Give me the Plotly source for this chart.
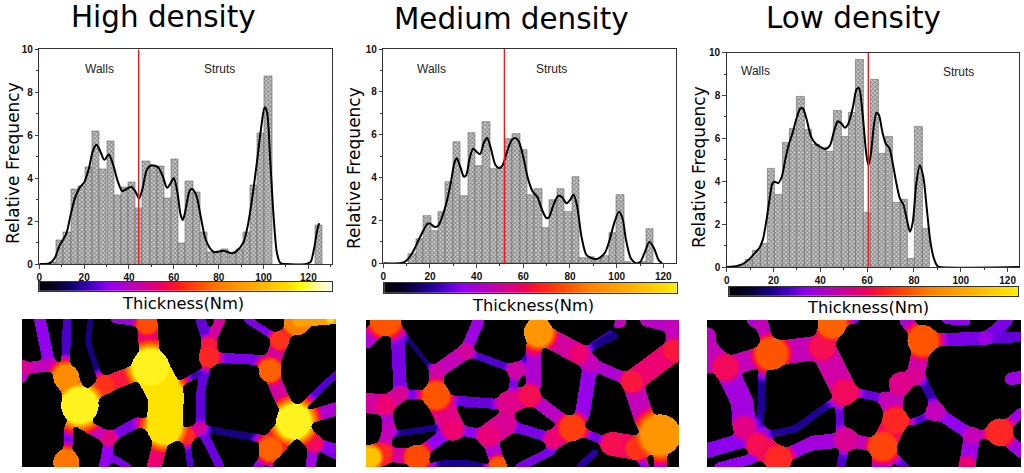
import numpy as np
import plotly.graph_objects as go

W, H = 1024, 473

# ---------- histogram data ----------
high_bar_x = [6.0, 9.3, 12.5, 15.7, 18.9, 22.1, 25.3, 28.5, 31.7, 34.9, 38.1, 41.3, 44.5, 47.7, 50.9, 54.1, 57.3, 60.5, 63.7, 66.9, 70.1, 73.3, 76.5, 79.7, 82.9, 86.1, 89.3, 92.5, 95.7, 98.9, 102.1, 124.5]
high_bar_y = [0.1, 1.1, 1.5, 3.5, 3.6, 4.5, 6.2, 4.4, 5.7, 3.2, 3.55, 3.8, 2.6, 4.8, 4.55, 4.55, 3.05, 4.9, 0.95, 3.85, 3.35, 1.5, 0.55, 0.55, 0.7, 0.5, 0.7, 1.5, 3.65, 6.1, 8.75, 1.8]
high_fit_x = [0, 3, 5, 7, 9, 12, 14, 16, 18, 20, 22, 24, 25.5, 27, 29, 31, 33, 35, 37, 39, 41, 43, 44.5, 46, 48, 50, 53, 55, 57, 58.5, 60, 61.5, 63, 64, 65, 67, 68, 70, 72, 74, 76, 78, 82, 86, 88, 91, 93, 95, 97, 99, 100.5, 101.5, 103, 104.5, 106, 107.5, 110, 119, 121, 122.5, 124, 124.8]
high_fit_y = [0, 0, 0.05, 0.3, 0.85, 1.4, 2.3, 3.1, 3.55, 3.8, 4.4, 5.3, 5.55, 5.3, 4.85, 5.1, 4.6, 3.85, 3.4, 3.5, 3.6, 3.35, 3.05, 3.5, 4.4, 4.6, 4.5, 4.1, 3.55, 3.75, 4.0, 3.4, 2.3, 2.05, 2.4, 3.4, 3.5, 3.2, 2.2, 1.2, 0.75, 0.55, 0.62, 0.5, 0.6, 1.0, 1.8, 3.1, 4.7, 6.4, 7.3, 7.1, 4.8, 2.2, 0.5, 0.05, 0, 0, 0.1, 0.7, 1.6, 1.9]

med_bar_x = [12.4, 15.6, 18.8, 21.9, 25.1, 28.3, 31.5, 34.7, 37.9, 41.0, 44.2, 47.4, 50.6, 53.8, 57.0, 60.1, 63.3, 66.5, 69.7, 72.9, 76.1, 79.2, 82.4, 85.6, 88.8, 92.0, 95.2, 98.3, 101.5, 104.7, 111.1, 114.2]
med_bar_y = [0.45, 1.15, 2.2, 1.5, 2.4, 3.8, 5.65, 3.15, 6.1, 4.55, 6.6, 4.4, 4.45, 5.8, 6.05, 5.3, 3.2, 3.45, 1.65, 2.95, 3.45, 2.4, 4.05, 0.25, 0.28, 0.22, 0.33, 1.4, 3.2, 0.05, 0.05, 1.6]
med_fit_x = [0, 7, 9, 11, 13, 15, 17, 19, 20, 22, 23.5, 25, 27, 29, 30.5, 31.5, 33, 34.5, 35.5, 37, 38.5, 40, 41.5, 43, 44.5, 46, 48, 49.5, 51, 53, 55, 56.5, 58, 60, 62, 64, 66, 68, 70, 71, 73, 75, 76.5, 78.5, 80, 81.5, 83, 85, 87, 89, 92, 95, 97, 99, 101, 102.5, 104, 106, 108, 110, 112, 114, 116, 118, 119.5]
med_fit_y = [0, 0, 0.05, 0.25, 0.6, 1.05, 1.5, 1.85, 1.85, 1.7, 1.75, 2.1, 2.8, 3.8, 4.7, 4.9, 4.5, 4.05, 4.1, 4.9, 5.35, 5.2, 5.1, 5.6, 5.85, 5.4, 4.6, 4.45, 4.55, 5.2, 5.75, 5.85, 5.7, 4.95, 3.95, 3.35, 3.1, 2.5, 2.1, 2.15, 2.75, 3.15, 3.1, 2.8, 2.95, 3.2, 2.7, 1.2, 0.4, 0.25, 0.22, 0.5, 1.1, 1.9, 2.4, 2.1, 1.1, 0.25, 0.02, 0.05, 0.5, 1.0, 0.7, 0.15, 0]

low_bar_x = [6.5, 9.65, 12.8, 16.0, 19.1, 22.3, 25.4, 28.6, 31.7, 34.9, 38.0, 41.2, 44.3, 47.5, 50.6, 53.8, 56.9, 60.1, 63.2, 66.4, 69.5, 72.7, 75.8, 79.0, 82.1, 85.3]
low_bar_y = [0.1, 0.35, 0.78, 1.07, 4.6, 3.37, 5.8, 6.45, 7.93, 6.43, 5.73, 5.55, 5.4, 7.3, 6.1, 7.2, 9.67, 2.53, 8.72, 5.27, 6.07, 3.0, 3.13, 0.37, 6.57, 1.8]
low_fit_x = [0, 3, 6, 8, 10, 12, 14, 15.5, 17, 18.5, 19.5, 20.5, 22, 23.5, 25, 26.5, 28, 30, 31.5, 32.5, 34, 36, 38, 40, 42, 44, 46, 47.5, 49, 50.5, 52, 54, 55.5, 56.5, 58, 59.5, 60.5, 61.5, 63, 64, 65, 66.5, 68, 69.5, 71, 72.5, 74, 75.5, 77, 78.3, 79.5, 81, 82.5, 84, 85.5, 87, 88.5, 90, 91, 125]
low_fit_y = [0, 0.02, 0.1, 0.22, 0.4, 0.65, 0.9, 1.3, 2.2, 3.3, 3.9, 3.98, 3.92, 4.2, 5.0, 5.7, 6.2, 7.0, 7.4, 7.4, 6.95, 6.1, 5.75, 5.6, 5.5, 5.65, 6.4, 6.8, 6.7, 6.5, 6.7, 7.5, 8.3, 8.35, 7.2, 5.4, 4.75, 5.2, 6.7, 7.2, 7.1, 6.3, 5.75, 5.55, 4.8, 3.9, 3.2, 2.9, 2.2, 1.65, 2.1, 3.9, 4.75, 4.2, 2.7, 1.2, 0.4, 0.05, 0, 0]

divider_x = [44.3, 51.9, 60.5]
titles = ["High density", "Medium density", "Low density"]

# ---------- thickness map networks: nodes (x, y, radius, level) and struts (a, b, radius, level) ----------
high_nodes = [(238,270,55,.93),(197,185,38,.76),(313,208,28,.6),(450,155,55,.93),(497,240,50,.88),(492,335,52,.88),(625,125,30,.58),(625,88,22,.55),(808,165,33,.68),(838,75,27,.6),(890,20,38,.74),(880,318,52,.93),(810,400,35,.68),(940,382,25,.52),(558,360,25,.58),(600,338,18,.42),(325,368,22,.48),(197,440,38,.72),(440,25,30,.64),(990,10,12,.9),(75,158,18,.46)]
high_struts = [((118,12),(145,140),14,.33),((145,140),(197,185),14,.4),((200,12),(195,150),10,.24),((75,158),(145,150),14,.42),((270,12),(262,80),6,.15),((262,80),(295,180),6,.15),((197,185),(238,270),28,.7),((238,270),(313,208),18,.5),((313,208),(450,155),20,.55),((340,12),(440,25),8,.35),((440,25),(450,155),25,.5),((450,155),(497,240),45,.9),((497,240),(492,335),45,.9),((530,210),(610,165),6,.22),((625,125),(625,88),20,.5),((625,88),(600,12),12,.27),((625,88),(660,12),12,.45),((615,165),(600,230),10,.27),((600,230),(600,338),10,.27),((625,125),(808,135),12,.3),((808,165),(838,75),20,.45),((838,75),(890,20),14,.45),((838,75),(740,12),8,.3),((808,165),(840,240),18,.45),((840,240),(880,318),18,.45),((880,318),(810,400),30,.55),((880,318),(1007,280),16,.38),((880,318),(940,382),20,.48),((940,382),(1007,420),10,.3),((910,270),(1007,175),8,.25),((810,400),(770,456),10,.33),((810,400),(810,456),6,.3),((940,382),(930,456),12,.35),((600,338),(790,370),8,.15),((600,338),(558,360),14,.45),((558,360),(492,335),14,.5),((558,360),(570,456),7,.25),((600,338),(660,456),10,.28),((492,335),(460,456),18,.5),((492,335),(410,320),12,.35),((410,320),(325,368),12,.3),((325,368),(320,410),12,.33),((320,410),(310,456),12,.33),((325,368),(238,320),14,.42),((205,330),(205,370),10,.28),((205,370),(197,440),10,.3),((320,420),(350,435),8,.3),((350,435),(385,456),8,.3),((75,158),(66,190),10,.4),((66,150),(75,158),14,.45),((940,382),(1007,400),12,.32),((890,20),(1007,10),12,.8)]

med_nodes = [(120,15,45,.66),(155,50,18,.42),(165,235,20,.46),(120,268,28,.5),(272,240,40,.66),(272,170,20,.44),(360,108,24,.45),(512,165,25,.44),(578,50,42,.78),(565,100,20,.44),(552,240,32,.53),(490,262,35,.47),(322,340,28,.5),(430,360,32,.49),(478,325,18,.44),(680,338,38,.62),(700,115,28,.5),(735,145,18,.42),(625,370,25,.5),(860,198,32,.55),(985,105,32,.55),(985,35,18,.42),(945,358,60,.78),(875,398,30,.6),(800,385,28,.53),(215,425,36,.64),(110,415,28,.58),(75,425,30,.85),(458,450,25,.66),(130,340,20,.42),(825,20,16,.42)]
med_struts = [((155,50),(165,235),16,.3),((120,15),(155,50),18,.45),((175,55),(255,155),5,.14),((360,108),(272,170),18,.42),((360,108),(400,15),14,.35),((360,108),(512,165),8,.25),((512,165),(500,230),10,.3),((565,100),(512,165),6,.2),((565,100),(565,210),18,.38),((578,50),(565,100),20,.5),((578,50),(700,115),25,.45),((700,115),(735,145),22,.42),((740,95),(810,60),8,.15),((735,145),(860,198),14,.38),((735,145),(710,300),18,.34),((860,198),(985,105),28,.5),((985,105),(985,35),20,.42),((985,35),(900,15),14,.4),((860,198),(900,320),25,.42),((272,240),(165,235),10,.3),((165,235),(120,268),20,.45),((120,268),(62,262),25,.45),((272,240),(272,170),18,.44),((272,240),(322,340),30,.48),((320,255),(450,265),12,.28),((490,262),(552,240),25,.47),((552,240),(680,338),16,.4),((490,262),(478,325),10,.3),((478,325),(430,360),30,.46),((322,340),(430,360),12,.33),((478,325),(625,370),12,.3),((625,370),(680,338),25,.47),((680,338),(800,385),10,.3),((800,385),(875,398),30,.52),((875,398),(945,358),30,.6),((430,360),(458,450),18,.38),((322,340),(240,400),14,.33),((155,355),(280,335),7,.16),((130,340),(120,268),14,.38),((130,340),(110,415),15,.42),((110,415),(215,425),18,.45),((75,425),(110,415),30,.55),((250,456),(290,445),8,.16),((290,445),(370,445),8,.16),((370,445),(420,456),8,.16),((620,405),(520,456),10,.3),((750,410),(700,456),8,.18),((875,398),(900,456),10,.3),((945,400),(945,456),16,.33),((62,75),(120,15),20,.38),((700,115),(825,20),3,.2)]

low_nodes = [(258,115,47,.66),(120,155,38,.52),(410,95,38,.53),(440,25,42,.68),(478,230,38,.52),(175,335,32,.48),(235,352,15,.36),(215,385,28,.53),(278,430,40,.58),(712,75,45,.66),(645,205,34,.47),(690,180,25,.45),(630,315,38,.58),(592,393,42,.63),(482,372,34,.46),(750,288,28,.42),(860,360,25,.42),(942,350,40,.58),(900,68,20,.35),(845,450,25,.5),(380,383,18,.33),(230,30,20,.42)]
low_struts = [((258,115),(120,155),25,.42),((258,115),(410,95),30,.42),((410,95),(440,25),28,.5),((410,95),(478,230),32,.44),((230,165),(228,220),8,.17),((228,220),(225,340),8,.17),((230,30),(258,115),15,.38),((230,30),(200,15),14,.38),((120,155),(67,100),25,.42),((120,155),(170,260),28,.36),((170,260),(175,335),28,.36),((175,335),(215,385),18,.42),((235,360),(330,340),8,.17),((330,340),(440,260),8,.17),((510,230),(600,250),10,.28),((600,250),(630,315),18,.42),((460,260),(465,345),9,.28),((482,372),(592,393),16,.42),((630,315),(592,393),30,.52),((278,430),(215,385),30,.52),((278,430),(380,383),16,.35),((380,383),(482,372),18,.36),((185,370),(67,405),18,.32),((200,430),(100,456),12,.33),((712,75),(690,180),22,.44),((690,180),(645,205),20,.46),((645,205),(630,315),12,.42),((710,190),(750,270),10,.2),((680,320),(720,305),8,.25),((750,288),(860,360),14,.33),((860,360),(942,350),10,.4),((942,350),(1008,290),12,.35),((942,350),(1008,410),15,.35),((860,360),(845,450),20,.35),((712,75),(900,68),16,.3),((900,68),(1008,65),12,.27),((900,68),(965,15),14,.3),((712,75),(660,15),15,.38),((780,15),(845,20),8,.33),((440,25),(515,15),6,.3),((592,393),(660,456),10,.25),((592,393),(590,456),25,.4),((482,372),(465,456),10,.24),((975,190),(1008,185),15,.35),((67,60),(67,150),20,.4)]

map_boxes = [(22, 319, 336, 467), (366, 320, 679, 467), (707, 320, 1021, 467)]
map_crops = [(0, 315), (345, 315), (685, 315)]

# ---------- colour maps ----------
map_scale = [[0, "#000000"], [0.07, "#04002a"], [0.16, "#1a008c"], [0.25, "#5200d0"], [0.33, "#9400f0"], [0.42, "#c400b8"], [0.5, "#ee0070"], [0.57, "#ff2028"], [0.65, "#ff5000"], [0.8, "#ffa000"], [0.92, "#fff000"], [1, "#fffff0"]]
bar_stops = [[0, "#000000"], [0.06, "#04002a"], [0.13, "#1a008c"], [0.19, "#5200d0"], [0.235, "#9000f0"], [0.34, "#c400a8"], [0.42, "#ee0060"], [0.47, "#ff1820"], [0.55, "#ff5000"], [0.62, "#ff8000"], [0.75, "#ffb000"], [0.86, "#ffe000"], [0.89, "#ffff00"]]
fire_full = bar_stops + [[0.95, "#ffffa0"], [1, "#fffff8"]]
fire_yellow = [[s / 0.89, c] for s, c in bar_stops[:-1]] + [[1, "#ffee00"]]


def smooth(a, size):
    k = np.ones(size) / size
    for _ in range(3):
        a = np.apply_along_axis(lambda v: np.convolve(np.pad(v, size, mode="edge"), k, mode="same")[size:-size], 0, a)
        a = np.apply_along_axis(lambda v: np.convolve(np.pad(v, size, mode="edge"), k, mode="same")[size:-size], 1, a)
    return a


def thickness_map(nodes, struts, crop, box):
    xs = np.arange((box[0] - crop[0]) * 3, (box[2] - crop[0]) * 3 + 1, 1.5)
    ys = np.arange((box[1] - crop[1]) * 3, (box[3] - crop[1]) * 3 + 1, 1.5)
    gx, gy = np.meshgrid(xs, ys)
    covered = np.zeros_like(gx, dtype=bool)
    level = np.zeros_like(gx)
    for a, b, r, v in struts:
        dx, dy = b[0] - a[0], b[1] - a[1]
        t = np.clip(((gx - a[0]) * dx + (gy - a[1]) * dy) / max(dx * dx + dy * dy, 1), 0, 1)
        d = np.hypot(gx - a[0] - t * dx, gy - a[1] - t * dy)
        inside = d <= r * 1.15
        covered |= inside
        level = np.where(inside, np.maximum(level, v), level)
    for x, y, r, v in nodes:
        d = np.hypot(gx - x, gy - y)
        covered |= d <= r
        glow = v * np.clip(1 - (d - r) / (1.3 * r), 0, 1)
        glow = np.where(d <= r, v, glow * 0.95)
        level = np.maximum(level, glow)
    # rounded pore corners: close the network mask, then fill new pixels from nearby levels
    soft = smooth(covered.astype(float), 9)
    closed = soft > 0.42
    weight = smooth(covered.astype(float), 7)
    filled = smooth(level * covered, 7) / np.maximum(weight, 1e-3)
    level = np.where(covered, smooth(level * covered, 3) / np.maximum(smooth(covered.astype(float), 3), 1e-3), filled)
    return xs, ys, np.where(closed, level, 0).round(3)


def dom_x(a, b):
    return [a / W, b / W]


def dom_y(top, bottom):
    return [1 - bottom / H, 1 - top / H]


fig = go.Figure()
layout = {}
annotations = []


def note(text, px, py, size, family, angle=0, color="#000000"):
    annotations.append(dict(text=text, x=px / W, y=1 - py / H, xref="paper", yref="paper", showarrow=False,
                            xanchor="center", yanchor="middle", textangle=angle,
                            font=dict(size=size, family=family, color=color)))


plots = [
    dict(box=(39.3, 49.3, 331.7, 264), xr=130.4, bx=high_bar_x, by=high_bar_y, fx=high_fit_x, fy=high_fit_y,
         cbar=(39.3, 281.7, 332, 290.7), scale=fire_full, nodes=high_nodes, struts=high_struts,
         title=(163, 17), yt=(13, 163), xt=(183, 303), walls=(99, 69.3), struts_lbl=(219, 69.3)),
    dict(box=(383.3, 49, 675.7, 263.3), xr=125.3, bx=med_bar_x, by=med_bar_y, fx=med_fit_x, fy=med_fit_y,
         cbar=(384.3, 283, 676.7, 292.7), scale=fire_yellow, nodes=med_nodes, struts=med_struts,
         title=(511, 19), yt=(354, 168), xt=(533, 305), walls=(431.7, 69.3), struts_lbl=(551.7, 69.3)),
    dict(box=(726.7, 52.7, 1019.3, 267), xr=125, bx=low_bar_x, by=low_bar_y, fx=low_fit_x, fy=low_fit_y,
         cbar=(729.3, 286.7, 1018.3, 295.7), scale=fire_yellow, nodes=low_nodes, struts=low_struts,
         title=(853.5, 18), yt=(699, 167), xt=(868, 307), walls=(755, 70.7), struts_lbl=(958.7, 72)),
]

tick_font = dict(size=10, family="Liberation Sans", color="#111111", weight="bold")

for i, p in enumerate(plots):
    n = i * 3
    ax, ay = f"x{n+1}", f"y{n+1}"
    cx, cy = f"x{n+2}", f"y{n+2}"
    mx, my = f"x{n+3}", f"y{n+3}"
    l, t, r, b = p["box"]
    fig.add_trace(go.Bar(x=p["bx"], y=p["by"], width=3.17, xaxis=ax, yaxis=ay, showlegend=False,
                         marker=dict(color="#aaaaaa", line=dict(color="#666666", width=0.6),
                                     pattern=dict(shape="x", size=3, solidity=0.55, fgcolor="#3a3a3a", bgcolor="#d0d0d0"))))
    fig.add_trace(go.Scatter(x=p["fx"], y=p["fy"], mode="lines", xaxis=ax, yaxis=ay, showlegend=False,
                             line=dict(color="#000000", width=2, shape="spline", smoothing=0.8)))
    fig.add_trace(go.Scatter(x=[divider_x[i], divider_x[i]], y=[0, 10], mode="lines", xaxis=ax, yaxis=ay, showlegend=False,
                             line=dict(color="#f01818", width=1.4)))
    layout[f"xaxis{n+1}"] = dict(domain=dom_x(l, r), range=[0, p["xr"]], anchor=ay, tickvals=list(range(0, 121, 20)),
                                 ticks="outside", ticklen=3.5, tickwidth=1, tickfont=tick_font, showgrid=False, zeroline=False,
                                 showline=True, linecolor="#333333", linewidth=1, mirror=True,
                                 minor=dict(tickvals=list(range(10, 131, 20)), ticks="outside", ticklen=2, tickwidth=1, tickcolor="#333333"))
    layout[f"yaxis{n+1}"] = dict(domain=dom_y(t, b), range=[0, 10], anchor=ax, tickvals=list(range(0, 11, 2)),
                                 ticks="outside", ticklen=3.5, tickwidth=1, tickfont=tick_font, showgrid=False, zeroline=False,
                                 showline=True, linecolor="#333333", linewidth=1, mirror=True,
                                 minor=dict(tickvals=list(range(1, 10, 2)), ticks="outside", ticklen=2, tickwidth=1, tickcolor="#333333"))

    c = p["cbar"]
    grad = np.linspace(0, 1, 256)
    fig.add_trace(go.Heatmap(x=grad, y=[0, 1], z=[grad, grad], xaxis=cx, yaxis=cy, zmin=0, zmax=1, colorscale=p["scale"],
                             showscale=False, hoverinfo="skip"))
    layout[f"xaxis{n+2}"] = dict(domain=dom_x(c[0], c[2]), range=[0, 1], anchor=cy, showticklabels=False, ticks="", showgrid=False,
                                 zeroline=False, showline=True, linecolor="#333333", linewidth=1, mirror=True)
    layout[f"yaxis{n+2}"] = dict(domain=dom_y(c[1], c[3]), range=[0, 1], anchor=cx, showticklabels=False, ticks="", showgrid=False,
                                 zeroline=False, showline=True, linecolor="#333333", linewidth=1, mirror=True)

    mb = map_boxes[i]
    crop = map_crops[i]
    xs, ys, z = thickness_map(p["nodes"], p["struts"], crop, mb)
    fig.add_trace(go.Heatmap(x=xs, y=ys, z=z, xaxis=mx, yaxis=my, zmin=0, zmax=1, colorscale=map_scale,
                             showscale=False, hoverinfo="skip", zsmooth="best"))
    layout[f"xaxis{n+3}"] = dict(domain=dom_x(mb[0], mb[2]), range=[xs[0], xs[-1]], anchor=my, visible=False)
    layout[f"yaxis{n+3}"] = dict(domain=dom_y(mb[1], mb[3]), range=[ys[-1], ys[0]], anchor=mx, visible=False)

    note(titles[i], *p["title"], 29.4, "DejaVu Sans")
    note("Relative Frequency", *p["yt"], 17, "DejaVu Sans", angle=-90)
    note("Thickness(Nm)", *p["xt"], 16.3, "DejaVu Sans")
    note("Walls", *p["walls"], 12, "Liberation Sans", color="#222222")
    note("Struts", *p["struts_lbl"], 12, "Liberation Sans", color="#222222")

fig.update_layout(width=W, height=H, margin=dict(l=0, r=0, t=0, b=0, autoexpand=False), paper_bgcolor="#ffffff", plot_bgcolor="#ffffff",
                  bargap=0, annotations=annotations, showlegend=False, **layout)
fig.write_html("out.html", config={"displayModeBar": False}, post_script="document.body.style.margin='0';")
